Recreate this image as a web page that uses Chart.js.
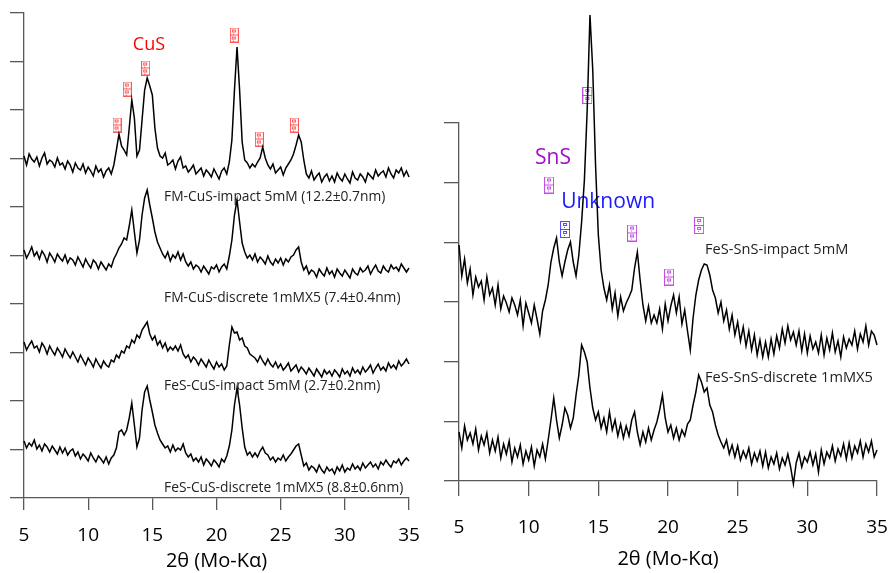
<!DOCTYPE html>
<html>
<head>
<meta charset="utf-8">
<script src="https://cdn.jsdelivr.net/npm/chart.js@4.4.1/dist/chart.umd.min.js"></script>
<style>
  body { margin: 0; background: #fff; width: 891px; height: 573px; overflow: hidden; position: relative; }
  #left { position: absolute; left: 0; top: 0; }
  #right { position: absolute; left: 430px; top: 0; }
</style>
</head>
<body>
<canvas id="left" width="430" height="573"></canvas>
<canvas id="right" width="461" height="573"></canvas>
<script>
// 2theta grid (deg), shared by all patterns
const twoTheta = [
  5,5.2,5.4,5.6,5.8,6,6.2,6.4,6.6,6.8,
  7,7.2,7.4,7.6,7.8,8,8.2,8.4,8.6,8.8,
  9,9.2,9.4,9.6,9.8,10,10.2,10.4,10.6,10.8,
  11,11.2,11.4,11.6,11.8,12,12.2,12.4,12.6,12.8,
  13,13.2,13.4,13.6,13.8,14,14.2,14.4,14.6,14.8,
  15,15.2,15.4,15.6,15.8,16,16.2,16.4,16.6,16.8,
  17,17.2,17.4,17.6,17.8,18,18.2,18.4,18.6,18.8,
  19,19.2,19.4,19.6,19.8,20,20.2,20.4,20.6,20.8,
  21,21.2,21.4,21.6,21.8,22,22.2,22.4,22.6,22.8,
  23,23.2,23.4,23.6,23.8,24,24.2,24.4,24.6,24.8,
  25,25.2,25.4,25.6,25.8,26,26.2,26.4,26.6,26.8,
  27,27.2,27.4,27.6,27.8,28,28.2,28.4,28.6,28.8,
  29,29.2,29.4,29.6,29.8,30,30.2,30.4,30.6,30.8,
  31,31.2,31.4,31.6,31.8,32,32.2,32.4,32.6,32.8,
  33,33.2,33.4,33.6,33.8,34,34.2,34.4,34.6,34.8,
  35
];

// left panel (CuS), stacked intensities, arbitrary units
const fmCuSImpact = [
  342,333,344,339,336,341,332,340,345,334,
  338,336,331,340,333,335,329,337,333,326,
  335,330,328,334,325,331,327,322,332,326,
  329,321,327,330,324,333,348,364,352,348,
  343,370,398,380,342,348,378,408,420,412,
  403,370,350,342,340,345,333,335,338,329,
  337,341,330,332,326,329,333,324,327,330,
  322,328,325,321,329,324,319,327,330,324,
  336,358,408,451,408,356,338,335,330,334,
  331,336,340,351,340,333,329,334,325,328,
  331,323,330,334,338,344,353,363,356,338,
  324,320,327,318,322,325,316,321,324,317,
  322,316,325,320,317,324,319,315,326,320,
  318,324,321,316,325,322,319,328,322,325,
  327,321,330,324,320,328,325,330,322,327,
  321
];
const fmCuSDiscrete = [
  248,240,245,251,242,246,239,247,243,236,
  245,241,236,244,240,237,243,235,240,238,
  233,241,236,231,239,234,230,238,235,229,
  236,232,228,234,231,239,244,250,254,260,
  258,272,288,266,245,258,283,300,308,293,
  280,266,256,250,244,240,246,237,243,240,
  246,238,244,236,232,236,229,233,231,226,
  232,228,224,231,229,233,226,231,234,229,
  242,258,283,298,276,255,246,240,243,238,
  244,236,241,238,234,242,236,233,239,235,
  240,233,239,236,241,243,248,251,236,228,
  232,224,228,226,221,229,225,222,230,224,
  227,221,229,225,222,228,224,220,229,225,
  223,230,226,228,232,224,229,233,227,225,
  232,228,226,233,229,231,227,234,230,226,
  230
];
const feSCuSImpact = [
  156,148,153,157,150,152,146,155,151,144,
  152,147,143,150,146,141,149,144,140,146,
  141,136,143,138,133,140,136,131,139,134,
  130,137,133,131,138,136,143,140,147,145,
  152,150,158,155,163,160,168,172,176,164,
  158,162,153,157,150,155,147,151,148,152,
  147,153,144,140,143,136,141,138,133,139,
  135,131,138,133,129,136,131,134,128,132,
  153,171,165,166,158,160,152,150,144,142,
  140,136,142,137,133,139,134,131,136,130,
  134,128,131,135,127,130,133,126,131,128,
  124,130,126,122,129,125,121,128,124,127,
  122,128,125,121,129,124,127,122,130,125,
  128,124,131,126,129,133,125,130,134,128,
  131,127,135,130,133,129,137,132,135,139,
  134
];
const feSCuSDiscrete = [
  57,50,55,52,58,49,53,47,54,51,
  46,52,48,44,51,45,50,43,47,49,
  42,46,39,44,41,37,45,40,36,42,
  39,35,41,34,40,43,50,66,68,63,
  68,80,95,73,51,60,88,106,112,98,
  86,73,65,58,54,50,52,46,53,47,
  50,48,54,45,41,44,37,40,36,41,
  33,39,36,32,38,35,31,39,36,42,
  52,68,93,110,93,70,51,43,46,41,
  45,41,47,51,45,43,38,41,36,40,
  38,43,37,41,44,48,52,54,43,32,
  35,28,32,30,26,33,28,25,31,27,
  29,24,31,27,33,26,30,28,34,29,
  32,28,35,30,33,36,31,34,29,36,
  33,38,34,31,37,35,39,33,37,40,
  37
];

// right panel (SnS)
const feSSnSImpact = [
  236,205,222,198,212,186,204,194,200,181,
  204,186,193,176,196,172,185,178,169,183,
  176,166,181,155,178,168,158,176,162,147,
  170,181,196,219,233,243,219,205,219,231,
  239,219,205,226,259,301,371,466,411,316,
  246,211,193,181,196,172,188,165,184,170,
  178,184,191,213,229,201,176,160,175,158,
  166,158,172,152,177,160,175,186,168,184,
  157,171,150,131,163,186,201,211,217,216,
  206,191,183,168,179,160,171,152,166,146,
  159,140,154,135,150,131,146,126,141,124,
  139,124,142,127,145,133,152,138,155,141,
  149,136,150,130,147,128,145,132,139,128,
  146,126,143,131,148,129,140,124,144,133,
  142,136,150,132,147,139,155,136,150,146,
  136
];
const feSSnSDiscrete = [
  49,33,55,41,48,37,52,31,45,36,
  48,28,41,30,44,23,37,27,40,19,
  33,24,36,17,30,21,34,15,31,24,
  37,22,41,61,83,61,43,56,73,66,
  53,63,86,106,136,129,119,93,73,61,
  69,53,63,49,69,51,61,45,57,43,
  55,45,61,69,49,36,49,39,53,41,
  51,59,71,86,63,49,56,43,53,41,
  51,45,57,61,76,89,106,99,89,93,
  76,69,56,46,39,33,41,27,36,24,
  35,21,30,23,33,17,28,20,30,15,
  29,13,24,17,28,12,23,16,27,14,
  -3,18,28,14,24,19,29,16,27,9,
  31,17,29,23,35,20,32,25,37,22,
  38,23,35,28,40,24,37,29,40,24,
  31
];

// reference peak markers
const cusPeakX = [12.25, 13.05, 14.48, 21.39, 23.34, 26.07];
const cusPeakY = [373, 409, 430, 463, 359, 373];
const snsPeakX = [11.46, 14.21, 17.42, 20.08, 22.23];
const snsPeakY = [296, 385.5, 248, 204, 255.5];
const unknownPeakX = [12.61];
const unknownPeakY = [251.5];

// ticks
const xTicks = [5, 10, 15, 20, 25, 30, 35];
const leftYTicks = [0, 48.5, 97, 145.5, 194, 242.5, 291, 339.5, 388, 436.5, 485];
const rightYTicks = [0, 59.7, 119.3, 179, 238.7, 298.3, 358];

// annotations
const leftText = ['CuS', 'FM-CuS-impact 5mM (12.2±0.7nm)', 'FM-CuS-discrete 1mMX5 (7.4±0.4nm)',
  'FeS-CuS-impact 5mM (2.7±0.2nm)', 'FeS-CuS-discrete 1mMX5 (8.8±0.6nm)'];
const leftTextX = [14.74, 15.91, 15.91, 15.91, 15.91];
const leftTextY = [453, 301, 200, 112, 10];
const rightText = ['SnS', 'Unknown', 'FeS-SnS-impact 5mM', 'FeS-SnS-discrete 1mMX5'];
const rightTextX = [11.75, 15.70, 22.66, 22.66];
const rightTextY = [323, 279, 231, 103];

const FONT = "'Open Sans', sans-serif";
const AXIS = '#595959';

const pts = (xs, ys) => xs.map((x, i) => ({ x: x, y: ys[i] }));

// the little boxed glyphs used as peak markers
function tofu(color, w, h) {
  const c = document.createElement('canvas');
  c.width = w; c.height = h;
  const g = c.getContext('2d');
  g.strokeStyle = color; g.fillStyle = color; g.lineWidth = 1;
  g.strokeRect(0.5, 0.5, w - 1, h - 1);
  const mid = Math.floor(h / 2) + 0.5;
  g.beginPath(); g.moveTo(0, mid); g.lineTo(w, mid); g.stroke();
  [0, Math.floor(h / 2)].forEach(oy => {
    g.strokeRect(Math.floor(w / 2) - 1.5, oy + 2.5, 3, 2);
    g.fillRect(Math.floor(w / 2) - 1, oy + 6, 1, 1);
  });
  return c;
}

function textPlugin(id, text, xs, ys, styles) {
  return {
    id: id,
    beforeDatasetsDraw(chart) {
      const { ctx, scales } = chart;
      ctx.save();
      ctx.textBaseline = 'middle';
      text.forEach((t, i) => {
        ctx.font = styles[i].font;
        ctx.fillStyle = styles[i].color;
        ctx.textAlign = styles[i].align;
        ctx.fillText(t, scales.x.getPixelForValue(xs[i]), scales.y.getPixelForValue(ys[i]));
      });
      ctx.restore();
    }
  };
}

function pattern(vals) {
  return {
    type: 'line',
    data: pts(twoTheta, vals),
    borderColor: '#000',
    borderWidth: 1.5,
    pointRadius: 0,
    tension: 0,
    clip: false
  };
}

function markers(xs, ys, img) {
  return {
    type: 'scatter',
    data: pts(xs, ys),
    pointStyle: img,
    pointRadius: 40,
    clip: false
  };
}

// label line height is used to push the tick labels down (ticks.padding would shrink the plot)
function xAxis(tickLen, labelLine, titlePad, height) {
  return {
    type: 'linear', min: 5, max: 35,
    afterBuildTicks: s => { s.ticks = xTicks.map(v => ({ value: v })); },
    afterFit: s => { s.height = height; },
    ticks: { color: '#000', padding: 0, font: { family: FONT, size: 19, lineHeight: labelLine + 'px' },
      callback: v => String(v) },
    grid: { drawOnChartArea: false, tickLength: tickLen, color: AXIS, lineWidth: 1.3 },
    border: { color: AXIS, width: 1.3 },
    title: { display: true, text: '2θ (Mo-Kα)', color: '#000', font: { family: FONT, size: 20 },
      padding: { top: 0, bottom: titlePad } }
  };
}

function yAxis(ticksArr, tickLen) {
  return {
    min: ticksArr[0], max: ticksArr[ticksArr.length - 1],
    afterBuildTicks: s => { s.ticks = ticksArr.map(v => ({ value: v })); },
    ticks: { display: false },
    grid: { drawOnChartArea: false, tickLength: tickLen, color: AXIS, lineWidth: 1.3 },
    border: { color: AXIS, width: 1.3 }
  };
}

function baseOptions(padding, x, y) {
  return {
    responsive: false,
    animation: false,
    events: [],
    layout: { autoPadding: false, padding: padding },
    plugins: { legend: { display: false }, tooltip: { enabled: false } },
    scales: { x: x, y: y }
  };
}

const small = (size) => ({ font: size + 'px ' + FONT, color: '#222', align: 'left' });

new Chart(document.getElementById('left'), {
  type: 'line',
  data: {
    datasets: [
      pattern(fmCuSImpact), pattern(fmCuSDiscrete), pattern(feSCuSImpact), pattern(feSCuSDiscrete),
      markers(cusPeakX, cusPeakY, tofu('rgba(255,70,70,0.9)', 9, 15))
    ]
  },
  options: baseOptions({ left: 10, right: 21, top: 13, bottom: 0 }, xAxis(12, 52, 0, 75), yAxis(leftYTicks, 14)),
  plugins: [textPlugin('leftText', leftText, leftTextX, leftTextY, [
    { font: '18px ' + FONT, color: '#ff0000', align: 'center' },
    small(13.8), small(13.8), small(13.8), small(13.8)
  ])]
});

new Chart(document.getElementById('right'), {
  type: 'line',
  data: {
    datasets: [
      pattern(feSSnSImpact), pattern(feSSnSDiscrete),
      markers(snsPeakX, snsPeakY, tofu('rgba(190,60,225,0.9)', 10, 17)),
      markers(unknownPeakX, unknownPeakY, tofu('rgba(60,60,255,0.9)', 10, 17))
    ]
  },
  options: baseOptions({ left: 14, right: 14, top: 123, bottom: 0 }, xAxis(15, 64, 2, 92), yAxis(rightYTicks, 15)),
  plugins: [textPlugin('rightText', rightText, rightTextX, rightTextY, [
    { font: '21px ' + FONT, color: '#a010c8', align: 'center' },
    { font: '21px ' + FONT, color: '#1a1aff', align: 'center' },
    small(14.6), small(14.6)
  ])]
});
</script>
</body>
</html>
